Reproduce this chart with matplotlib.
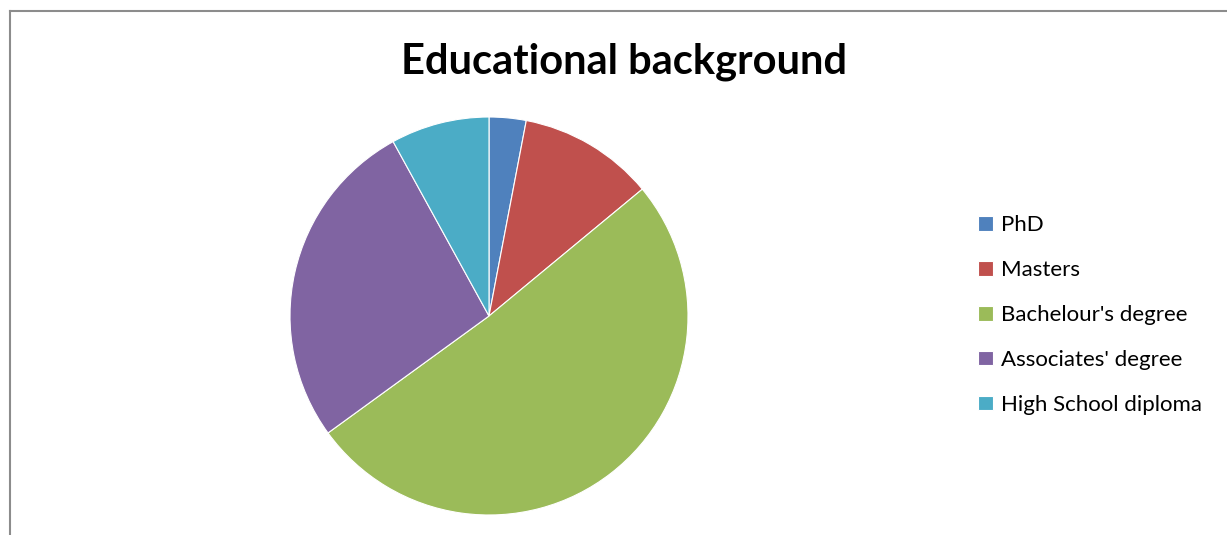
import matplotlib
matplotlib.use("Agg")
import matplotlib.pyplot as plt
from matplotlib.lines import Line2D

categories = ["PhD", "Masters", "Bachelour's degree", "Associates' degree", "High School diploma"]
values = [3, 11, 51, 27, 8]
colors = ["#4F81BD", "#C0504D", "#9BBB59", "#8064A2", "#4BACC6"]
title = "Educational background"

plt.rcParams['font.family'] = ['Lato', 'DejaVu Sans']

fig = plt.figure(figsize=(12.27, 5.35), dpi=100)
fig.patch.set_facecolor("white")

# chart border (top and left visible)
fig.add_artist(Line2D([10/1227, 1.0], [1 - 11/535, 1 - 11/535], color="#8c8c8c", lw=1.5))
fig.add_artist(Line2D([10/1227, 10/1227], [0, 1 - 11/535], color="#8c8c8c", lw=1.5))

ax = fig.add_axes([(489 - 199) / 1227, (535 - 515) / 535, 398 / 1227, 398 / 535])
wedges, _ = ax.pie(values, colors=colors, startangle=90, counterclock=False,
                   wedgeprops=dict(edgecolor="white", linewidth=0.8))
ax.set_xlim(-1, 1)
ax.set_ylim(-1, 1)
ax.set_aspect("equal")

fig.text(624 / 1227, 1 - 62 / 535, title, ha="center", va="center",
         fontsize=30, fontweight="bold", color="black")

leg = fig.legend(wedges, categories, loc="center left",
                 bbox_to_anchor=(967 / 1227, 1 - 315 / 535),
                 frameon=False, fontsize=16, handlelength=0.65, handleheight=0.65,
                 handletextpad=0.4, labelspacing=1.12, borderpad=0)

fig.savefig("out.png", dpi=100)
